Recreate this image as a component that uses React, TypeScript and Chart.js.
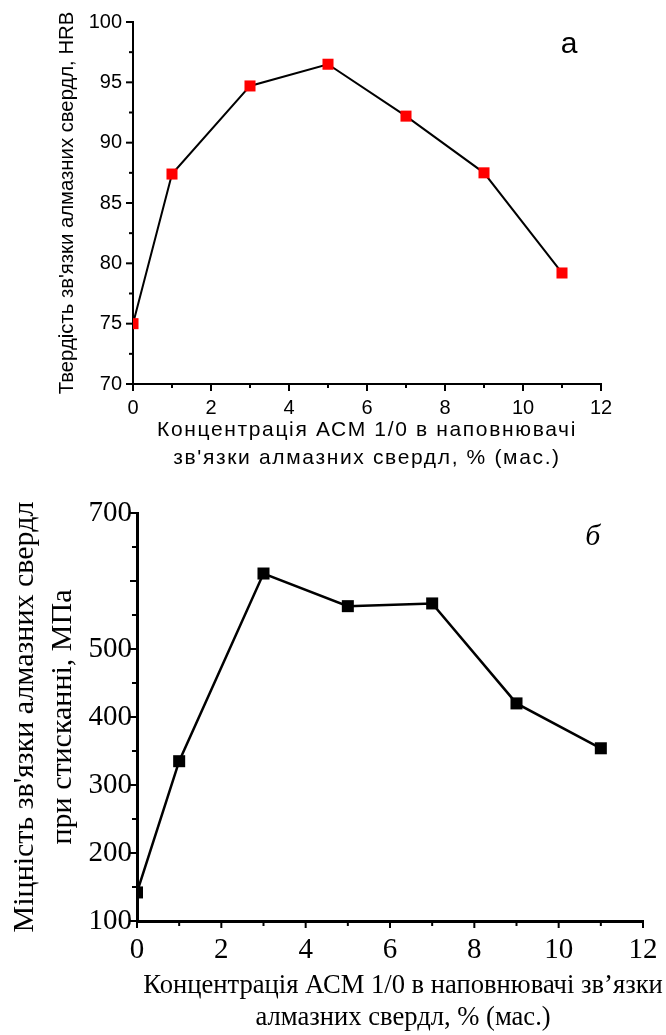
import React, { useEffect, useRef } from "react";
import { Chart, registerables } from "chart.js";

Chart.register(...registerables);

// ---- data ----
const concentrations = [0, 1, 3, 5, 7, 9, 11];
const hardnessHRB = [75, 87.4, 94.7, 96.5, 92.2, 87.5, 79.2];
const strengthMPa = [142, 335, 611, 563, 567, 420, 354];

const hardnessYTitle = "Твердість зв'язки алмазних свердл, HRB";
const hardnessXTitle = ["Концентрація АСМ 1/0 в наповнювачі", "зв'язки алмазних свердл, % (мас.)"];
const strengthYTitle = ["Міцність зв'язки алмазних свердл", "при стисканні, МПа"];
const strengthXTitle = ["Концентрація АСМ 1/0 в наповнювачі зв’язки", "алмазних свердл, % (мас.)"];
const hiddenStrengthTicks = [600];

const SANS = "'Liberation Sans', Arial, sans-serif";
const SERIF = "'Liberation Serif', 'Times New Roman', serif";

const axisTicksPlugin = {
  id: "axisTicks",
  afterDraw(chart: any, _args: any, opts: any) {
    const ctx = chart.ctx;
    const xs = chart.scales.x;
    const ys = chart.scales.y;
    ctx.save();
    ctx.strokeStyle = "#000";
    ctx.lineWidth = opts.width;
    const isMajor = (v: number, step: number) => Math.abs(v / step - Math.round(v / step)) < 1e-6;
    for (let v = xs.min; v <= xs.max + 1e-9; v += opts.xMinor) {
      const p = xs.getPixelForValue(v);
      const len = isMajor(v, opts.xMajor) ? opts.majorLen : opts.minorLen;
      ctx.beginPath();
      ctx.moveTo(p, xs.top);
      ctx.lineTo(p, xs.top + len);
      ctx.stroke();
    }
    for (let v = ys.min; v <= ys.max + 1e-9; v += opts.yMinor) {
      const p = ys.getPixelForValue(v);
      const len = isMajor(v, opts.yMajor) ? opts.majorLen : opts.minorLen;
      ctx.beginPath();
      ctx.moveTo(ys.right, p);
      ctx.lineTo(ys.right - len, p);
      ctx.stroke();
    }
    ctx.restore();
  },
};

const cornerLabelPlugin = {
  id: "cornerLabel",
  afterDraw(chart: any, _args: any, opts: any) {
    const ctx = chart.ctx;
    ctx.save();
    ctx.fillStyle = "#000";
    ctx.font = opts.font;
    ctx.textAlign = "center";
    ctx.textBaseline = "middle";
    ctx.fillText(opts.text, chart.scales.x.getPixelForValue(opts.x), chart.scales.y.getPixelForValue(opts.y));
    ctx.restore();
  },
};

// lets axis titles run past the axis length (no squeezing), with optional letter spacing / centre
const titleStylePlugin = {
  id: "titleStyle",
  afterLayout(chart: any, _args: any, opts: any) {
    for (const cfg of opts.axes || []) {
      const s = chart.scales[cfg.axis];
      if (!s || s.__styled) continue;
      const orig = s.drawTitle;
      s.drawTitle = function (...a: any[]) {
        const ctx = this.ctx;
        const saved = { left: this.left, right: this.right, top: this.top, bottom: this.bottom };
        if (this.isHorizontal()) {
          const c = cfg.center != null ? this.getPixelForValue(cfg.center) : (this.left + this.right) / 2;
          this.left = c - cfg.span / 2;
          this.right = c + cfg.span / 2;
        } else {
          const c = cfg.center != null ? this.getPixelForValue(cfg.center) : (this.top + this.bottom) / 2;
          this.top = c - cfg.span / 2;
          this.bottom = c + cfg.span / 2;
        }
        ctx.save();
        if (cfg.spacing) ctx.letterSpacing = cfg.spacing;
        orig.apply(this, a);
        ctx.restore();
        Object.assign(this, saved);
      };
      s.__styled = true;
    }
  },
};

function makeHardnessConfig(): any {
  return {
    type: "line",
    data: {
      datasets: [
        {
          data: concentrations.map((x, i) => ({ x, y: hardnessHRB[i] })),
          borderColor: "#000",
          borderWidth: 2,
          pointStyle: "rect",
          pointRadius: 7.8,
          pointBackgroundColor: "#ff0000",
          pointBorderColor: "#ff0000",
          pointBorderWidth: 0,
          clip: { left: 0, right: 20, top: 20, bottom: 20 },
        },
      ],
    },
    options: {
      animation: false,
      responsive: false,
      devicePixelRatio: 1,
      layout: { padding: { left: 0, top: 22, right: 65, bottom: 0 } },
      plugins: {
        legend: { display: false },
        tooltip: { enabled: false },
        axisTicks: { width: 2, majorLen: 7, minorLen: 4, xMajor: 2, xMinor: 1, yMajor: 5, yMinor: 2.5 },
        cornerLabel: { text: "а", x: 11.18, y: 98.1, font: `30px ${SANS}` },
        titleStyle: {
          axes: [
            { axis: "x", spacing: "1.65px", span: 600 },
            { axis: "y", span: 600 },
          ],
        },
      },
      scales: {
        x: {
          type: "linear",
          min: 0,
          max: 12,
          ticks: { stepSize: 2, color: "#000", padding: 5, maxRotation: 0, autoSkip: false, font: { family: SANS, size: 20 } },
          grid: { display: false, drawTicks: true, tickLength: 7 },
          border: { display: true, color: "#000", width: 2 },
          title: {
            display: true,
            text: hardnessXTitle,
            color: "#000",
            font: { family: SANS, size: 21, lineHeight: 1.333 },
            padding: { top: 0, bottom: 8 },
          },
          afterFit: (s: any) => {
            s.height = 96;
          },
        },
        y: {
          type: "linear",
          min: 70,
          max: 100,
          ticks: { stepSize: 5, color: "#000", padding: 4, font: { family: SANS, size: 20 } },
          grid: { display: false, drawTicks: true, tickLength: 7 },
          border: { display: true, color: "#000", width: 2 },
          title: {
            display: true,
            text: hardnessYTitle,
            color: "#000",
            font: { family: SANS, size: 20.3, lineHeight: 1.2 },
            padding: { top: 55, bottom: 0 },
          },
          afterFit: (s: any) => {
            s.width = 133;
          },
        },
      },
    },
    plugins: [axisTicksPlugin, cornerLabelPlugin, titleStylePlugin],
  };
}

function makeStrengthConfig(): any {
  return {
    type: "line",
    data: {
      datasets: [
        {
          data: concentrations.map((x, i) => ({ x, y: strengthMPa[i] })),
          borderColor: "#000",
          borderWidth: 2.5,
          pointStyle: "rect",
          pointRadius: 8.5,
          pointBackgroundColor: "#000",
          pointBorderColor: "#000",
          pointBorderWidth: 0,
        },
      ],
    },
    options: {
      animation: false,
      responsive: false,
      devicePixelRatio: 1,
      layout: { padding: { left: 0, top: 33, right: 23, bottom: 0 } },
      plugins: {
        legend: { display: false },
        tooltip: { enabled: false },
        axisTicks: { width: 2, majorLen: 7, minorLen: 5, xMajor: 2, xMinor: 1, yMajor: 100, yMinor: 50 },
        cornerLabel: { text: "б", x: 10.81, y: 665, font: `italic 30px ${SERIF}` },
        titleStyle: {
          axes: [
            { axis: "x", center: 6.31, span: 700 },
            { axis: "y", span: 600 },
          ],
        },
      },
      scales: {
        x: {
          type: "linear",
          min: 0,
          max: 12,
          ticks: { stepSize: 2, color: "#000", padding: 6, maxRotation: 0, autoSkip: false, font: { family: SERIF, size: 29 } },
          grid: { display: false, drawTicks: true, tickLength: 6 },
          border: { display: true, color: "#000", width: 3 },
          title: {
            display: true,
            text: strengthXTitle,
            color: "#000",
            font: { family: SERIF, size: 26.6, lineHeight: 1.24 },
            padding: { top: 0, bottom: 0 },
          },
          afterFit: (s: any) => {
            s.height = 114;
          },
        },
        y: {
          type: "linear",
          min: 100,
          max: 700,
          ticks: {
            stepSize: 100,
            color: "#000",
            padding: 2,
            font: { family: SERIF, size: 29 },
            callback: (v: number) => (hiddenStrengthTicks.includes(v) ? "" : String(v)),
          },
          grid: { display: false, drawTicks: true, tickLength: 3 },
          border: { display: true, color: "#000", width: 3 },
          title: {
            display: true,
            text: strengthYTitle,
            color: "#000",
            font: { family: SERIF, size: 30, lineHeight: 1.27 },
            padding: { top: 6, bottom: 0 },
          },
          afterFit: (s: any) => {
            s.width = 137;
          },
        },
      },
    },
    plugins: [axisTicksPlugin, cornerLabelPlugin, titleStylePlugin],
  };
}

function ChartCanvas({ width, height, top, makeConfig }: { width: number; height: number; top: number; makeConfig: () => any }) {
  const ref = useRef<HTMLCanvasElement | null>(null);
  useEffect(() => {
    if (!ref.current) return;
    const chart = new Chart(ref.current, makeConfig());
    return () => chart.destroy();
  }, [makeConfig]);
  return (
    <canvas
      ref={ref}
      width={width}
      height={height}
      style={{ position: "absolute", left: 0, top, width, height, display: "block" }}
    />
  );
}

export default function App() {
  useEffect(() => {
    document.body.style.margin = "0";
    document.body.style.background = "#fff";
  }, []);
  return (
    <div style={{ position: "absolute", left: 0, top: 0, width: 666, height: 1035, background: "#fff" }}>
      <ChartCanvas width={666} height={480} top={0} makeConfig={makeHardnessConfig} />
      <ChartCanvas width={666} height={555} top={480} makeConfig={makeStrengthConfig} />
    </div>
  );
}
